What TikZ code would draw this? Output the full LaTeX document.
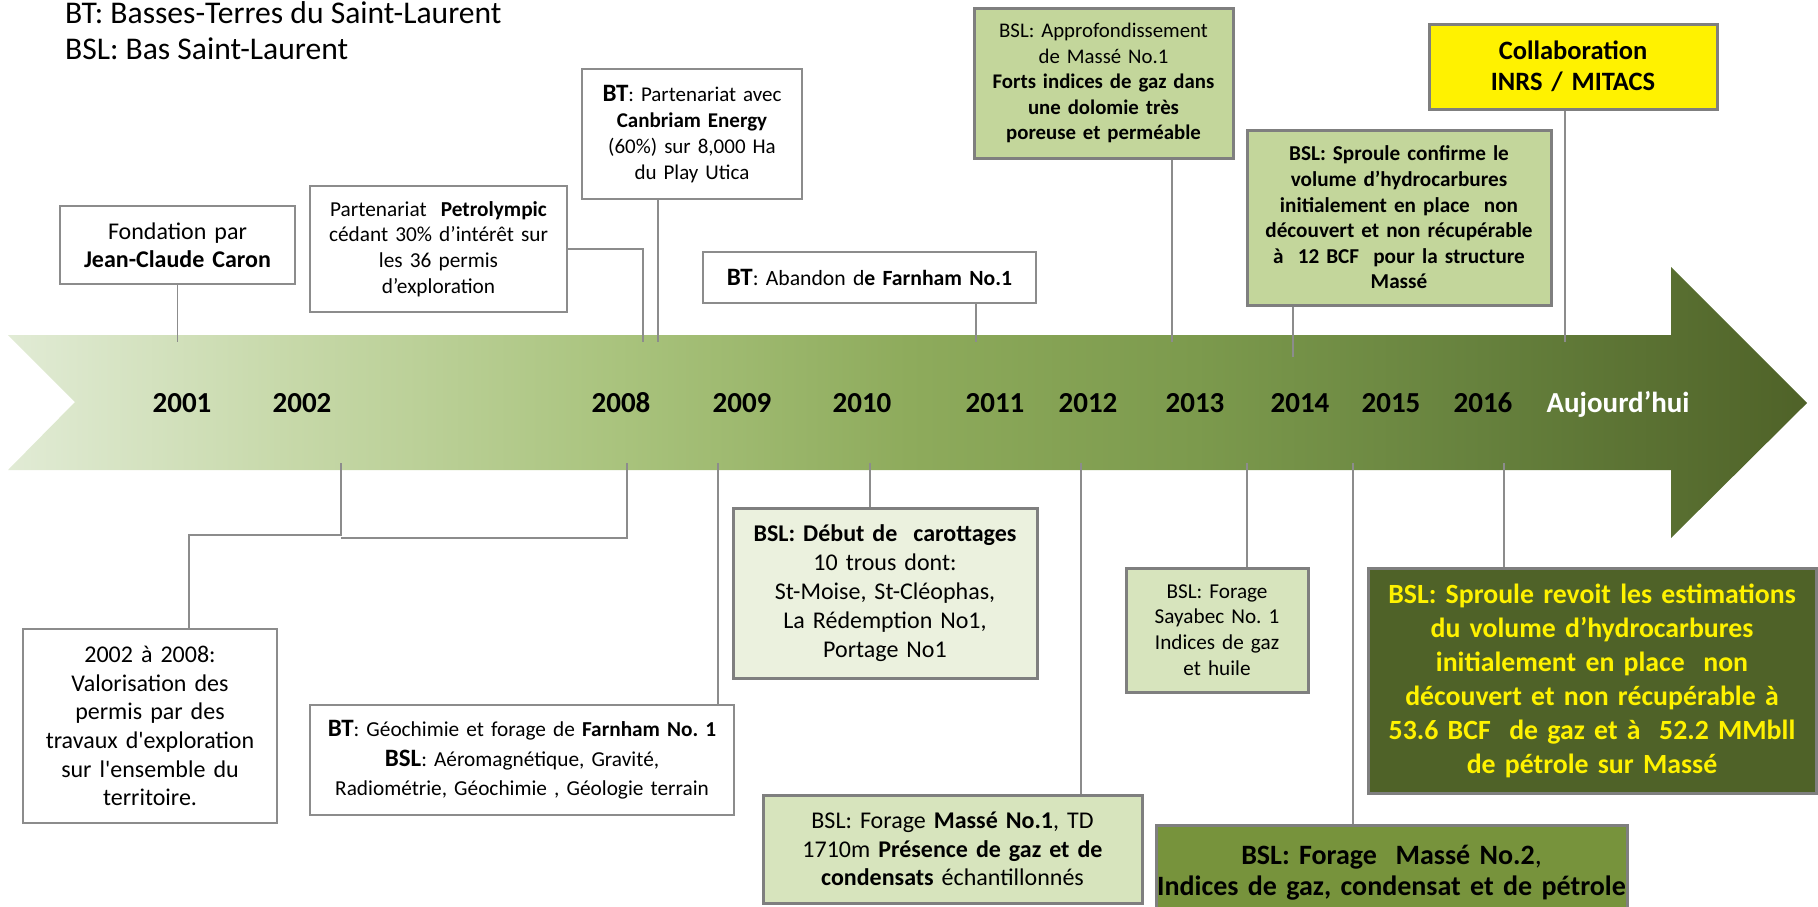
\documentclass[tikz,border=0pt]{standalone}
\usepackage{fontspec}
\setmainfont{Carlito}
\usetikzlibrary{calc}
\definecolor{linegray}{HTML}{8C8C8C}
\definecolor{framegray}{HTML}{7F7F7F}
\definecolor{leafpale}{HTML}{EBF1DE}
\definecolor{leaflight}{HTML}{D7E4BD}
\definecolor{leafmid}{HTML}{C3D69B}
\definecolor{mossgreen}{HTML}{77933C}
\definecolor{darkmoss}{HTML}{4F6228}
\definecolor{bandA}{HTML}{E1EBD5}
\definecolor{bandB}{HTML}{C6D8A8}
\definecolor{bandC}{HTML}{A9C37D}
\definecolor{bandD}{HTML}{8EAB5C}
\definecolor{bandE}{HTML}{7C9A4D}
\definecolor{bandF}{HTML}{66813D}
\definecolor{bandG}{HTML}{4F6228}
\pgfdeclarehorizontalshading{bandshade}{100bp}{color(0bp)=(bandA); color(25bp)=(bandA); color(33bp)=(bandB);
  color(42bp)=(bandC); color(50bp)=(bandD); color(58bp)=(bandE); color(66bp)=(bandF); color(75bp)=(bandG); color(100bp)=(bandG)}
\newcommand{\keyword}[1]{{\fontsize{12.5}{14}\selectfont\textbf{#1}}}
\frenchspacing

\begin{document}
\begin{tikzpicture}
		[x=0.5pt, y=-0.5pt,
		event/.style={draw=linegray,line width=0.75pt,fill=white,align=center,inner sep=0pt},
		greenbox/.style={draw=framegray,line width=1.5pt,align=center,inner sep=0pt},
		link/.style={linegray,line width=0.75pt},
		year/.style={anchor=base,font=\bfseries\fontsize{14.5}{17}\selectfont},
		legend/.style={anchor=base west,font=\fontsize{15.8}{19}\selectfont}
		]

        \useasboundingbox (0,0) rectangle (1818,906);

        % legend
        \node[legend] (legbt) at (58,23) {BT: Basses-Terres du Saint-Laurent};
        \node[legend] (legbsl) at (58,59) {BSL: Bas Saint-Laurent};

        % timeline arrow
        \path[shading=bandshade]
          (8,335) -- (1671,335) -- (1671,267) -- (1807,403) -- (1671,538) -- (1671,470) -- (8,470) -- (75,402) -- cycle;

        \foreach \yr/\xx in {2001/182,2002/302,2008/621,2009/742,2010/862,2011/995,2012/1088,2013/1195,2014/1300,2015/1391,2016/1483}
          \node[year] (y\yr) at (\xx,412) {\yr};
        \node[year,text=white] (ynow) at (1618,412) {Aujourd’hui};

        % ticks on the arrow
        \coordinate (t01) at (177.5,342);
        \coordinate (t08a) at (643,342);
        \coordinate (t08b) at (658,342);
        \coordinate (t11) at (976,342);
        \coordinate (t13) at (1172,342);
        \coordinate (t14) at (1293,357);
        \coordinate (tnow) at (1565,342);
        \coordinate (b02) at (341,463);
        \coordinate (b08) at (627,463);
        \coordinate (b09) at (718,463);
        \coordinate (b10) at (870,463);
        \coordinate (b12) at (1081,463);
        \coordinate (b13) at (1247,463);
        \coordinate (b15) at (1353,463);
        \coordinate (b16) at (1504,463);

        % events above
        \node[event,text width=117.5pt,minimum height=39pt,font=\fontsize{12}{14}\selectfont] (fondation) at (177.5,245)
          {Fondation par\\\textbf{Jean-Claude Caron}};
        \node[event,text width=128.5pt,minimum height=63pt,font=\fontsize{10.65}{12.85}\selectfont] (petro) at (438.5,249)
          {Partenariat~~\textbf{Petrolympic}\\cédant 30\% d’intérêt sur\\les 36 permis\\d’exploration};
        \node[event,text width=110pt,minimum height=65pt,font=\fontsize{10.5}{13}\selectfont] (canbriam) at (692,134)
          {\keyword{BT}: Partenariat avec\\\textbf{Canbriam Energy}\\(60\%) sur 8,000 Ha\\du Play Utica};
        \node[event,text width=166.5pt,minimum height=25.5pt,font=\fontsize{10.85}{13}\selectfont] (abandon) at (869.5,277.5)
          {\keyword{BT}: Abandon d\textbf{e Farnham No.1}};
        \node[greenbox,fill=leafmid,text width=129.5pt,minimum height=75pt,font=\fontsize{10.4}{12.75}\selectfont] (approf) at (1103.5,83)
          {BSL: Approfondissement\\de Massé No.1\\\textbf{Forts indices de gaz dans}\\\textbf{une dolomie très}\\\textbf{poreuse et perméable}};
        \node[greenbox,fill=yellow,text width=144pt,minimum height=42.5pt,font=\bfseries\fontsize{13.25}{15.5}\selectfont] (collab) at (1573,66.5)
          {Collaboration\\INRS / MITACS};
        \node[greenbox,fill=leafmid,text width=152pt,minimum height=87.5pt,font=\bfseries\fontsize{10.6}{12.8}\selectfont] (sproulea) at (1399,217.5)
          {BSL: Sproule confirme le\\volume d’hydrocarbures\\initialement en place~~non\\découvert et non récupérable\\à~~12 BCF~~pour la structure\\Massé};

        % events below
        \node[event,text width=127pt,minimum height=97pt,font=\fontsize{12}{14.3}\selectfont] (valor) at (150,726)
          {2002 à 2008:\\Valorisation des\\permis par des\\travaux d\textquotesingle exploration\\sur l\textquotesingle ensemble du\\territoire.};
        \node[event,text width=212pt,minimum height=55pt,font=\fontsize{10.65}{14.7}\selectfont] (geochim) at (522,760)
          {\keyword{BT}: Géochimie et forage de \textbf{Farnham No. 1}\\\keyword{BSL}: Aéromagnétique, Gravité,\\Radiométrie, Géochimie , Géologie terrain};
        \node[greenbox,fill=leafpale,text width=152pt,minimum height=85pt,font=\fontsize{12}{14.5}\selectfont] (carot) at (885,593)
          {\textbf{BSL: Début de~~carottages}\\10 trous dont:\\St-Moise, St-Cléophas,\\La Rédemption No1,\\Portage No1};
        \node[greenbox,fill=leaflight,text width=189.5pt,minimum height=54pt,font=\fontsize{12}{14.25}\selectfont] (massea) at (952.5,849)
          {BSL: Forage \textbf{Massé No.1}, TD\\1710m \textbf{Présence de gaz et de}\\\textbf{condensats} échantillonnés};
        \node[greenbox,fill=leaflight,text width=91pt,minimum height=62pt,font=\fontsize{10.6}{12.85}\selectfont] (sayabec) at (1217,630)
          {BSL: Forage\\Sayabec No. 1\\Indices de gaz\\et huile};
        \node[greenbox,fill=mossgreen,text width=235.5pt,minimum height=47.5pt,font=\bfseries\fontsize{14}{15.5}\selectfont] (masseb) at (1391.5,872.5)
          {BSL: Forage~~Massé No.2{\mdseries,}\\Indices de gaz, condensat et de pétrole};
        \node[greenbox,fill=darkmoss,text=yellow,text width=224pt,minimum height=112.5pt,font=\bfseries\fontsize{13.9}{17}\selectfont] (sprouleb) at (1592,680.5)
          {BSL: Sproule revoit les estimations\\du volume d’hydrocarbures\\initialement en place~~non\\découvert et non récupérable à\\53.6 BCF~~de gaz et à~~52.2 MMbll\\de pétrole sur Massé};

        % connectors
        \draw[link] (fondation.south) -- (t01);
        \draw[link] (petro.east) -| (t08a);
        \draw[link] (t08b |- canbriam.south) -- (t08b);
        \draw[link] (t11 |- abandon.south) -- (t11);
        \draw[link] (t13 |- approf.south) -- (t13);
        \draw[link] (tnow |- collab.south) -- (tnow);
        \draw[link] (t14 |- sproulea.south) -- (t14);
        \draw[link] (b02) -- ++(0,72) -| ([xshift=19.5pt]valor.north);
        \draw[link] (b08) -- ++(0,75) -- ++(-286,0);
        \draw[link] (b09) -- (b09 |- geochim.north);
        \draw[link] (b10) -- (b10 |- carot.north);
        \draw[link] (b12) -- (b12 |- massea.north);
        \draw[link] (b13) -- (b13 |- sayabec.north);
        \draw[link] (b15) -- (b15 |- masseb.north);
        \draw[link] (b16) -- (b16 |- sprouleb.north);
\end{tikzpicture}
\end{document}
